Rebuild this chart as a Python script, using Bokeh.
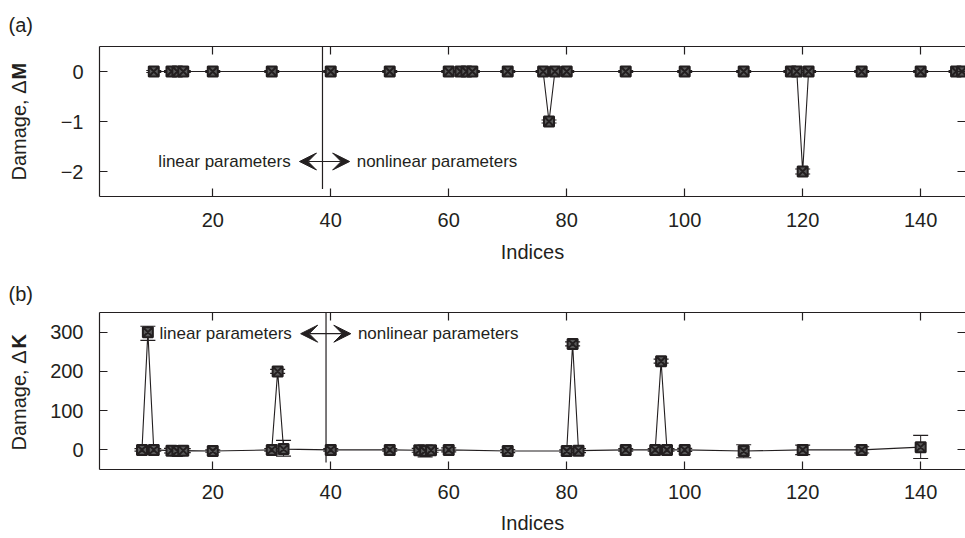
import math
from bokeh.plotting import figure
from bokeh.models import (Label, Arrow, VeeHead, Whisker, TeeHead, ColumnDataSource,
                          LinearAxis, Range1d, FixedTicker)
from bokeh.layouts import column, row
from bokeh.core.properties import value
from bokeh.embed import file_html
from bokeh.resources import INLINE

# ---------------- data ----------------
# panel (a): mass damage
idx_a = [10, 13, 14, 15, 20, 30, 40, 50, 60, 62, 63, 64, 70, 76, 77, 78, 80, 90,
         100, 110, 118, 119, 120, 121, 130, 140, 146, 147]
dm_a = [0, 0, 0, 0, 0, 0, 0, 0, 0, 0, 0, 0, 0, 0, -1, 0, 0, 0,
        0, 0, 0, 0, -2, 0, 0, 0, 0, 0]
err_a = [0.02, 0.02, 0.02, 0.02, 0.02, 0.02, 0.02, 0.02, 0.02, 0.02, 0.02, 0.02, 0.02, 0.02, 0.03, 0.02, 0.02, 0.02,
         0.02, 0.02, 0.02, 0.02, 0.05, 0.02, 0.02, 0.02, 0.02, 0.02]

# panel (b): stiffness damage
idx_b = [8, 9, 10, 13, 14, 15, 20, 30, 31, 32, 40, 50, 55, 56, 57, 60, 70,
         80, 81, 82, 90, 95, 96, 97, 100, 110, 120, 130, 140]
dk_b = [0, 300, 0, -2, -3, -2, -3, 0, 200, 2, 0, 0, -1, -3, -1, 0, -3,
        -3, 270, -2, 0, 0, 226, 0, 0, -3, 0, 0, 7]
errlo_b = [3, 21, 3, 6, 12, 5, 3, 3, 5, 18, 3, 3, 5, 15, 5, 5, 4,
           3, 5, 5, 3, 3, 5, 3, 4, 17, 12, 8, 29]
errhi_b = [3, 15, 3, 6, 3, 5, 3, 3, 5, 22, 3, 3, 5, 15, 5, 5, 4,
           3, 5, 5, 3, 3, 5, 3, 4, 16, 12, 8, 30]

x_ticks = [20, 40, 60, 80, 100, 120, 140]
y_ticks_a = [-2, -1, 0]
y_tick_labels_a = ["\u22122", "\u22121", "0"]
y_ticks_b = [0, 100, 200, 300]
y_tick_labels_b = ["0", "100", "200", "300"]

x_lim = (0.8, 147.6)
y_lim_a = (-2.5, 0.5)
y_lim_b = (-50, 350)

# separation between linear / nonlinear parameters
split_a, split_bottom_a = 38.6, -2.35
split_b, split_bottom_b = 39.2, -32
arrow_a = (34.7, 43.2, -1.8)
arrow_b = (34.9, 43.4, 296)

FONT = "Liberation Sans"
INK = "#231f20"
TOTAL_W = 965
LAB_W = 40            # strip on the left that holds panel tag + y label
MAIN_W = TOTAL_W - LAB_W
LEFT = 59             # border between strip and frame (frame starts at x=99)
YLAB_X = 18


def style_axis(ax, ticks, labels=None, show=True, standoff=16):
    ax.ticker = FixedTicker(ticks=ticks)
    ax.major_tick_in = 8
    ax.major_tick_out = 0
    ax.minor_tick_line_color = None
    ax.major_tick_line_color = INK
    ax.major_tick_line_width = 1.2
    ax.axis_line_color = INK
    ax.axis_line_width = 1.2
    ax.major_label_text_font = FONT
    ax.major_label_text_color = INK
    if show:
        ax.major_label_text_font_size = "20px"
        ax.major_label_standoff = standoff
        if labels is not None:
            ax.major_label_overrides = {t: l for t, l in zip(ticks, labels)}
    else:
        ax.major_label_text_font_size = "0px"
        ax.major_label_standoff = 0
        ax.major_label_overrides = {t: "" for t in ticks}


def make_label_strip(top, frame_h, bottom, tag, tag_standoff, ylab_main, ylab_bold,
                     main_px, bold_px):
    """narrow strip left of a panel; its frame lines up with the panel's frame and
    its y coordinate is the pixel distance from the top of the figure"""
    s = figure(width=LAB_W, height=top + frame_h + bottom, x_range=Range1d(0, LAB_W),
               y_range=Range1d(top + frame_h, top), output_backend="svg",
               toolbar_location=None, min_border_left=0, min_border_right=0,
               min_border_top=top, min_border_bottom=bottom)
    s.axis.visible = False
    s.grid.visible = False
    s.outline_line_color = None
    s.background_fill_color = "white"
    s.border_fill_color = "white"
    s.title.text = tag
    s.title.align = "left"
    s.title.offset = 8
    s.title.standoff = tag_standoff
    s.title.text_font = FONT
    s.title.text_font_size = "20px"
    s.title.text_font_style = "normal"
    s.title.text_color = INK
    s.text(x=[YLAB_X], y=[main_px], text=[ylab_main], angle=math.pi / 2, text_align="left",
           text_baseline="alphabetic", text_font=value(FONT), text_font_size="20px",
           text_color=INK)
    s.text(x=[YLAB_X], y=[bold_px], text=[ylab_bold], angle=math.pi / 2, text_align="left",
           text_baseline="alphabetic", text_font=value(FONT), text_font_size="20px",
           text_font_style="bold", text_color=INK)
    return s


def make_panel(xs, ys, lo, hi, ylim, yticks, ylabels, top, frame_h, bottom,
               split, split_bottom, arrow, tick_standoff, label_standoff):
    p = figure(width=MAIN_W, height=top + frame_h + bottom, x_range=Range1d(*x_lim),
               y_range=Range1d(*ylim), output_backend="svg", toolbar_location=None,
               min_border_left=LEFT, min_border_right=0, min_border_top=top,
               min_border_bottom=bottom)
    p.outline_line_color = None
    p.xgrid.visible = False
    p.ygrid.visible = False
    p.background_fill_color = "white"
    p.border_fill_color = "white"

    style_axis(p.xaxis[0], x_ticks, standoff=tick_standoff)
    style_axis(p.yaxis[0], yticks, ylabels, standoff=16)
    p.xaxis.axis_label = "Indices"
    p.xaxis.axis_label_text_font = FONT
    p.xaxis.axis_label_text_font_size = "20px"
    p.xaxis.axis_label_text_font_style = "normal"
    p.xaxis.axis_label_text_color = INK
    p.xaxis.axis_label_standoff = label_standoff

    top_ax = LinearAxis()
    style_axis(top_ax, x_ticks, show=False)
    p.add_layout(top_ax, "above")
    right_ax = LinearAxis()
    style_axis(right_ax, yticks, show=False)
    right_ax.axis_line_color = None
    p.add_layout(right_ax, "right")

    src = ColumnDataSource(dict(x=xs, y=ys,
                                lower=[v - e for v, e in zip(ys, lo)],
                                upper=[v + e for v, e in zip(ys, hi)]))

    # separator between linear and nonlinear parameters
    p.segment(x0=[split], y0=[split_bottom], x1=[split], y1=[ylim[1]],
              line_color=INK, line_width=1.2)

    p.line("x", "y", source=src, line_color=INK, line_width=1.1)
    p.add_layout(Whisker(source=src, base="x", lower="lower", upper="upper",
                         dimension="height", line_color=INK, line_width=1,
                         lower_head=TeeHead(size=15, line_color=INK, line_width=1.2),
                         upper_head=TeeHead(size=15, line_color=INK, line_width=1.2)))
    p.scatter("x", "y", source=src, marker="square_x", size=10,
              line_color=INK, line_width=2, fill_color="#5a5a5a")

    x0, x1, ya = arrow
    p.add_layout(Arrow(x_start=x0, x_end=x1, y_start=ya, y_end=ya,
                       line_color=INK, line_width=1.2,
                       start=VeeHead(size=17, fill_color=INK, line_color=INK),
                       end=VeeHead(size=17, fill_color=INK, line_color=INK)))
    p.add_layout(Label(x=x0 - 1.5, y=ya, text="linear parameters", text_align="right",
                       text_baseline="middle", text_font=FONT, text_font_size="17px",
                       text_color=INK))
    p.add_layout(Label(x=x1 + 1.2, y=ya, text="nonlinear parameters", text_align="left",
                       text_baseline="middle", text_font=FONT, text_font_size="17px",
                       text_color=INK))
    return p


TOP_A, FRAME_A, BOT_A = 46, 150, 74
TOP_B, FRAME_B, BOT_B = 42, 157, 69

pa = make_panel(idx_a, dm_a, err_a, err_a, y_lim_a, y_ticks_a, y_tick_labels_a,
                TOP_A, FRAME_A, BOT_A, split_a, split_bottom_a, arrow_a, 16, 11)
pb = make_panel(idx_b, dk_b, errlo_b, errhi_b, y_lim_b, y_ticks_b, y_tick_labels_b,
                TOP_B, FRAME_B, BOT_B, split_b, split_bottom_b, arrow_b, 15, 10)

la = make_label_strip(TOP_A, FRAME_A, BOT_A, "(a)", 22, "Damage, \u0394", "M", 180, 79)
lb = make_label_strip(TOP_B, FRAME_B, BOT_B, "(b)", 16, "Damage, \u0394", "K", 180, 78)

layout = column(row(la, pa, spacing=0), row(lb, pb, spacing=0), spacing=0)
open("out.html", "w").write(file_html(layout, INLINE))
